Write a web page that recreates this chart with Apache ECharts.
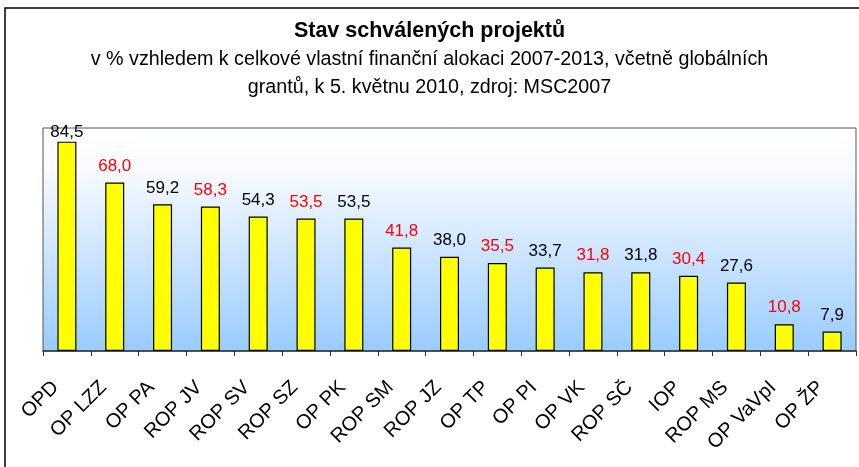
<!DOCTYPE html>
<html>
<head>
<meta charset="utf-8">
<script src="https://cdn.jsdelivr.net/npm/echarts@6/dist/echarts.min.js"></script>
<style>
  html, body { margin: 0; padding: 0; background: #fff; }
  #myChart { width: 859px; height: 467px; }
</style>
</head>
<body>
<div id="myChart"></div>
<script>
// programy
const categories = ['OPD', 'OP LZZ', 'OP PA', 'ROP JV', 'ROP SV', 'ROP SZ', 'OP PK', 'ROP SM', 'ROP JZ',
  'OP TP', 'OP PI', 'OP VK', 'ROP SČ', 'IOP', 'ROP MS', 'OP VaVpI', 'OP ŽP']
// % schválených projektů
const values = [84.5, 68.0, 59.2, 58.3, 54.3, 53.5, 53.5, 41.8, 38.0, 35.5, 33.7, 31.8, 31.8, 30.4, 27.6, 10.8, 7.9]
// barva popisku
const labelColors = ['#000', '#ff0000', '#000', '#ff0000', '#000', '#ff0000', '#000', '#ff0000', '#000',
  '#ff0000', '#000', '#ff0000', '#000', '#ff0000', '#000', '#ff0000', '#000']
// podtitulek po radcich
const subtitleLines = [
  'v % vzhledem k celkové vlastní finanční alokaci 2007-2013, včetně globálních',
  'grantů, k 5. květnu 2010, zdroj: MSC2007'
]

const font = 'Arial, "Liberation Sans", sans-serif'

let barData = []
for (let i = 0; i < values.length; i++) {
  barData.push({
    value: values[i],
    label: { color: labelColors[i], distance: i === 0 ? 1 : 8 }
  })
}

let option = {
  animation: false,
  title: [{
    text: 'Stav schválených projektů',
    left: 'center',
    top: 13,
    textStyle: { fontFamily: font, fontSize: 21.5, fontWeight: 'bold', color: '#000', lineHeight: 26 }
  }, {
    text: subtitleLines[0],
    left: 'center',
    top: 44,
    textStyle: { fontFamily: font, fontSize: 19.7, fontWeight: 'normal', color: '#000', lineHeight: 22 }
  }, {
    text: subtitleLines[1],
    left: 'center',
    top: 72,
    textStyle: { fontFamily: font, fontSize: 19.7, fontWeight: 'normal', color: '#000', lineHeight: 22 }
  }],
  graphic: [{
    type: 'rect',
    shape: { x: 5, y: 8, width: 900, height: 500 },
    style: { fill: 'none', stroke: '#000', lineWidth: 1.5 },
    silent: true
  }],
  grid: {
    left: 43,
    right: 3,
    top: 128,
    bottom: 116,
    show: true,
    borderColor: '#555',
    borderWidth: 1,
    backgroundColor: {
      type: 'linear', x: 0, y: 0, x2: 0, y2: 1,
      colorStops: [
        { offset: 0, color: '#ffffff' },
        { offset: 0.2, color: '#f7faff' },
        { offset: 1, color: '#99ccff' }
      ]
    }
  },
  xAxis: {
    type: 'category',
    data: categories,
    axisLine: { lineStyle: { color: '#333', width: 1.5 } },
    axisTick: { show: true, length: 5, lineStyle: { color: '#333' } },
    axisLabel: {
      interval: 0,
      rotate: 45,
      margin: 22,
      padding: [0, 16, 0, 0],
      fontFamily: font,
      fontSize: 20,
      color: '#000'
    }
  },
  yAxis: {
    type: 'value',
    min: 0,
    max: 90,
    show: false,
    splitLine: { show: false }
  },
  series: [{
    type: 'bar',
    data: barData,
    barWidth: 19,
    itemStyle: { color: '#ffff00', borderColor: '#000', borderWidth: 1.2 },
    label: {
      show: true,
      position: 'top',
      fontFamily: font,
      fontSize: 17,
      formatter: p => p.value.toFixed(1).replace('.', ',')
    }
  }]
}

let myChart = echarts.init(document.getElementById('myChart'))
myChart.setOption(option)
</script>
</body>
</html>
